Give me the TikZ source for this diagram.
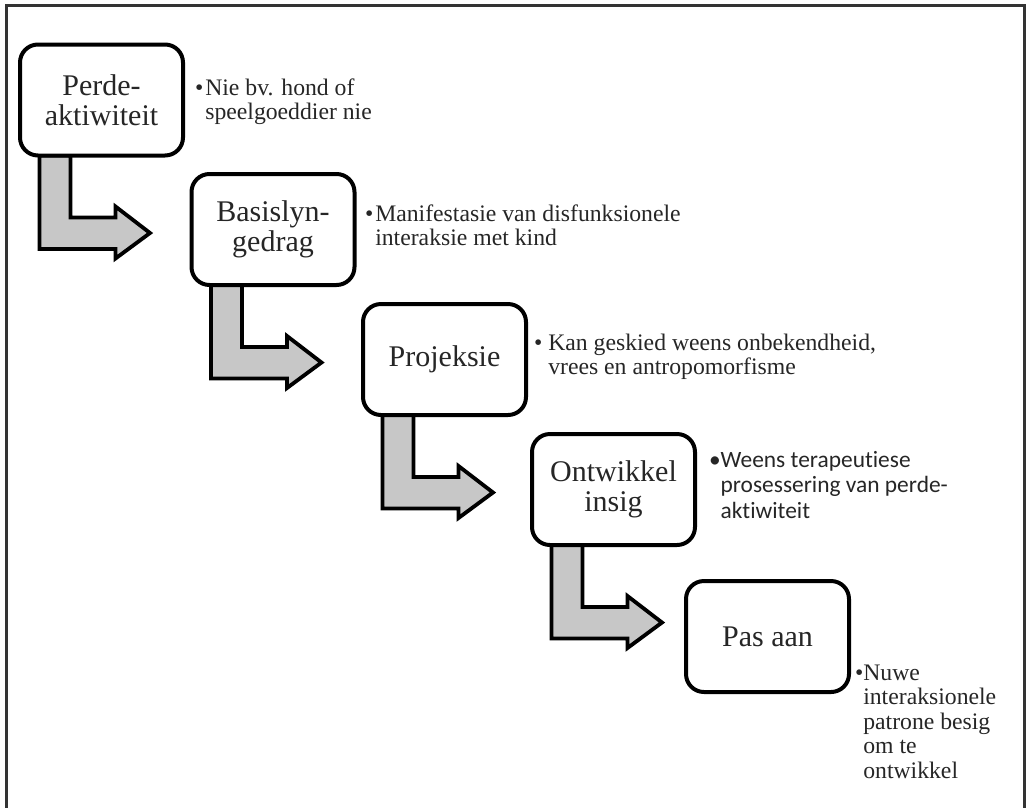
\documentclass[tikz,border=0pt]{standalone}
\usepackage{fontspec}
\setmainfont{Liberation Serif}
\newfontfamily\calfont[Ligatures=NoCommon]{Carlito}
\usetikzlibrary{backgrounds,calc}
\begin{document}
\begin{tikzpicture}[x=1pt,y=-1pt,
  stepbox/.style={draw=black, line width=4pt, rounded corners=18pt, fill=white,
    minimum width=163pt, minimum height=111pt, outer sep=0pt, inner sep=2pt,
    align=center, font=\fontsize{30}{29.5}\selectfont, text=black!85},
  note/.style={anchor=base west, inner sep=0pt, outer sep=0pt,
    font=\fontsize{23.7}{24.5}\selectfont, text=black!85},
  calnote/.style={note, font=\calfont\fontsize{23.4}{25.7}\selectfont},
  bentarrow/.style={draw=black, line width=3.8pt, fill=black!22, line join=miter},
  frameline/.style={draw=black!80, line width=2.5pt}]
\useasboundingbox (0,0) rectangle (1027,807);

% boxes
\node[stepbox] (b1) at (101.5,100) {Perde-\\aktiwiteit};
\node[stepbox] (b2) at (273,229.5) {Basislyn-\\gedrag};
\node[stepbox] (b3) at (444.5,359.5) {Projeksie};
\node[stepbox] (b4) at (613.5,489.5) {Ontwikkel\\insig};
\node[stepbox] (b5) at (767.5,636.5) {Pas aan};

% notes
\node[note] (t1) at (195,95) {\textbullet\hspace{2pt}\begin{tabular}[t]{@{}l@{}}Nie bv. hond of\\speelgoeddier nie\end{tabular}};
\node[note] (t2) at (365,221) {\textbullet\hspace{2pt}\begin{tabular}[t]{@{}l@{}}Manifestasie van disfunksionele\\interaksie met kind\end{tabular}};
\node[note] (t3) at (534,350) {\textbullet\hspace{6pt}\begin{tabular}[t]{@{}l@{}}Kan geskied weens onbekendheid,\\vrees en antropomorfisme\end{tabular}};
\node[calnote] (t4) at (709,467) {\textbullet\begin{tabular}[t]{@{}l@{}}Weens terapeutiese\\prosessering van perde-\\aktiwiteit\end{tabular}};
\node[note] (t5) at (855,680) {\textbullet\begin{tabular}[t]{@{}l@{}}Nuwe\\interaksionele\\patrone besig\\om te\\ontwikkel\end{tabular}};

\begin{scope}[on background layer]
  \foreach \b in {b1,b2,b3,b4}{
    \draw[bentarrow] ($(\b.south west)+(19.5,0)$) -- ++(31,0) -- ++(0,62) -- ++(45,0)
      -- ++(0,-11) -- ++(34.5,26.5) -- ++(-34.5,25.5) -- ++(0,-9.5) -- ++(-76,0) -- cycle;
  }
  \draw[frameline] (6.5,815) -- (6.5,5.5) -- (1024.5,5.5) -- (1024.5,815);
\end{scope}
\end{tikzpicture}
\end{document}
